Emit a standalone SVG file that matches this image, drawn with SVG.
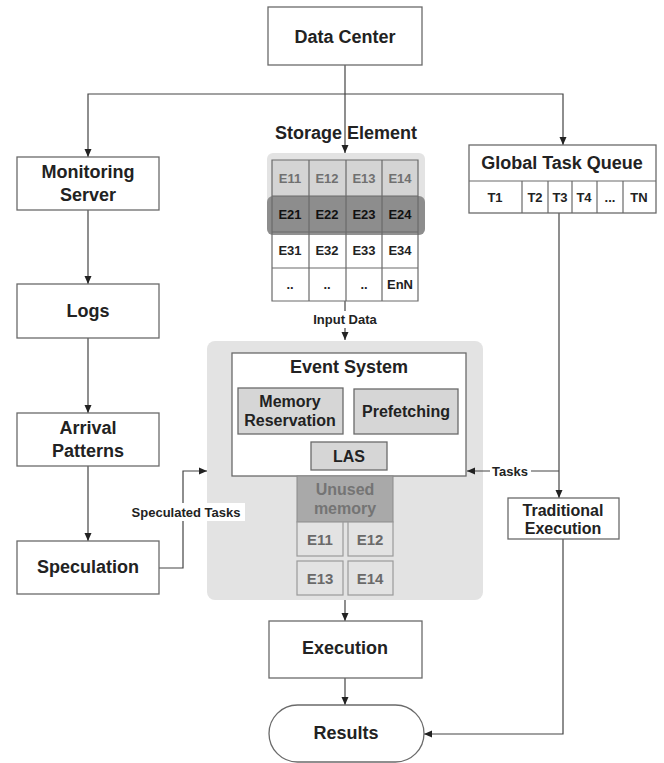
<svg xmlns="http://www.w3.org/2000/svg" width="664" height="763" viewBox="0 0 664 763">
<defs>
<marker id="arr" viewBox="0 0 8 8" refX="8" refY="4" markerWidth="8" markerHeight="8" markerUnits="userSpaceOnUse" orient="auto">
<path d="M0,0.5 L8,4 L0,7.5 z" fill="#222"/>
</marker>
<style>
text{font-family:"Liberation Sans",Arial,sans-serif;font-weight:bold;fill:#222;text-anchor:middle;dominant-baseline:central}
.box{fill:#fff;stroke:#6a6a6a;stroke-width:1.3}
.gbox{fill:#d6d6d6;stroke:#6a6a6a;stroke-width:1.3}
.cell{fill:none;stroke:#6a6a6a;stroke-width:1.2}
.lbl{font-size:18px}
.md{font-size:16px}
.sm{font-size:13px}
.con{fill:none;stroke:#444;stroke-width:1.2}
.arrow{marker-end:url(#arr)}
.gray{fill:#707070}
</style>
</defs>
<rect width="664" height="763" fill="#fff"/>

<g id="event-area">
<rect x="207" y="341" width="276" height="259" rx="8" fill="#e3e3e3"/>
</g>

<g id="connectors">
<path class="con" d="M345,65 V94"/>
<path class="con arrow" d="M345,94 H88 V157"/>
<path class="con arrow" d="M345,94 H563 V145"/>
<path class="con arrow" d="M345,94 V153"/>
<path class="con arrow" d="M88,210 V284"/>
<path class="con arrow" d="M88,338 V413"/>
<path class="con arrow" d="M88,466 V541"/>
<path class="con arrow" d="M159,568 H183 V471 H207"/>
<path class="con arrow" d="M345,301 V340"/>
<path class="con arrow" d="M559,213 V498"/>
<path class="con arrow" d="M559,471 H467"/>
<path class="con arrow" d="M345,600 V621"/>
<path class="con arrow" d="M345,678 V705"/>
<path class="con arrow" d="M563,539 V734 H424"/>
<rect x="127" y="503" width="118" height="18" fill="#fff"/>
<text class="sm" x="186" y="512">Speculated Tasks</text>
<rect x="490" y="462" width="41" height="18" fill="#fff"/>
<text class="sm" x="510" y="471">Tasks</text>
<rect x="305" y="311" width="80" height="17" fill="#fff"/>
<text class="sm" x="345" y="319">Input Data</text>
</g>

<g id="data-center">
<rect class="box" x="268" y="7" width="154" height="58"/>
<text class="lbl" x="345" y="37">Data Center</text>
</g>

<g id="monitoring-server">
<rect class="box" x="17" y="157" width="142" height="53"/>
<text class="lbl" x="88" y="172">Monitoring</text>
<text class="lbl" x="88" y="195">Server</text>
</g>

<g id="logs">
<rect class="box" x="17" y="284" width="142" height="54"/>
<text class="lbl" x="88" y="311">Logs</text>
</g>

<g id="arrival-patterns">
<rect class="box" x="17" y="413" width="142" height="53"/>
<text class="lbl" x="88" y="428">Arrival</text>
<text class="lbl" x="88" y="451">Patterns</text>
</g>

<g id="speculation">
<rect class="box" x="17" y="541" width="142" height="53"/>
<text class="lbl" x="88" y="567">Speculation</text>
</g>

<g id="storage-element">
<text class="lbl" x="346" y="133">Storage Element</text>
<rect x="267" y="153" width="158" height="82" rx="6" fill="#e3e3e3"/>
<rect x="272" y="160" width="146" height="36" fill="#d4d4d4"/>
<rect x="272" y="232" width="146" height="69" fill="#fff"/>
<rect x="267" y="196" width="158" height="39" rx="6" fill="#7e7e7e" fill-opacity="0.85"/>
<path class="cell" d="M272,160 H418 V301 H272 Z M272,196 H418 M272,232 H418 M272,268 H418 M309,160 V301 M346,160 V301 M382,160 V301"/>
<text class="sm gray" x="290" y="178">E11</text>
<text class="sm gray" x="327" y="178">E12</text>
<text class="sm gray" x="364" y="178">E13</text>
<text class="sm gray" x="400" y="178">E14</text>
<text class="sm" x="290" y="214" style="fill:#111">E21</text>
<text class="sm" x="327" y="214" style="fill:#111">E22</text>
<text class="sm" x="364" y="214" style="fill:#111">E23</text>
<text class="sm" x="400" y="214" style="fill:#111">E24</text>
<text class="sm" x="290" y="250">E31</text>
<text class="sm" x="327" y="250">E32</text>
<text class="sm" x="364" y="250">E33</text>
<text class="sm" x="400" y="250">E34</text>
<text class="sm" x="290" y="284">..</text>
<text class="sm" x="327" y="284">..</text>
<text class="sm" x="364" y="284">..</text>
<text class="sm" x="400" y="284">EnN</text>
</g>

<g id="global-task-queue">
<rect class="box" x="469" y="145" width="187" height="68"/>
<path class="cell" d="M469,181 H656 M522,181 V213 M548,181 V213 M572,181 V213 M597,181 V213 M623,181 V213"/>
<text class="lbl" x="562" y="163">Global Task Queue</text>
<text class="sm" x="495" y="197">T1</text>
<text class="sm" x="535" y="197">T2</text>
<text class="sm" x="560" y="197">T3</text>
<text class="sm" x="584" y="197">T4</text>
<text class="sm" x="610" y="197">...</text>
<text class="sm" x="639" y="197">TN</text>
</g>

<g id="event-system">
<rect class="box" x="232" y="353" width="234" height="123"/>
<text class="lbl" x="349" y="367">Event System</text>
</g>

<g id="memory-reservation">
<rect class="gbox" x="238" y="388" width="105" height="46"/>
<text class="md" x="290" y="401">Memory</text>
<text class="md" x="290" y="420">Reservation</text>
</g>

<g id="prefetching">
<rect class="gbox" x="354" y="389" width="104" height="45"/>
<text class="md" x="406" y="411">Prefetching</text>
</g>

<g id="las">
<rect class="gbox" x="311" y="442" width="76" height="28"/>
<text class="md" x="349" y="456">LAS</text>
</g>

<g id="unused-memory">
<rect x="297" y="476" width="96" height="46" fill="#a9a9a9" stroke="#8a8a8a" stroke-width="1"/>
<text class="md" x="345" y="489" style="fill:#747474">Unused</text>
<text class="md" x="345" y="508" style="fill:#747474">memory</text>
<rect x="297" y="522" width="46" height="34" fill="#e3e3e3" stroke="#9a9a9a" stroke-width="1.2"/>
<rect x="348" y="522" width="45" height="34" fill="#e3e3e3" stroke="#9a9a9a" stroke-width="1.2"/>
<rect x="297" y="561" width="46" height="34" fill="#e3e3e3" stroke="#9a9a9a" stroke-width="1.2"/>
<rect x="348" y="561" width="45" height="34" fill="#e3e3e3" stroke="#9a9a9a" stroke-width="1.2"/>
<text x="320" y="539" style="font-size:15px;fill:#6a6a6a">E11</text>
<text x="370" y="539" style="font-size:15px;fill:#6a6a6a">E12</text>
<text x="320" y="578" style="font-size:15px;fill:#6a6a6a">E13</text>
<text x="370" y="578" style="font-size:15px;fill:#6a6a6a">E14</text>
</g>

<g id="traditional-execution">
<rect class="box" x="508" y="498" width="111" height="41"/>
<text class="md" x="563" y="510">Traditional</text>
<text class="md" x="563" y="528">Execution</text>
</g>

<g id="execution">
<rect class="box" x="269" y="621" width="153" height="57"/>
<text class="lbl" x="345" y="648">Execution</text>
</g>

<g id="results">
<rect class="box" x="269" y="705" width="155" height="57" rx="28.5"/>
<text class="lbl" x="346" y="733">Results</text>
</g>
</svg>
